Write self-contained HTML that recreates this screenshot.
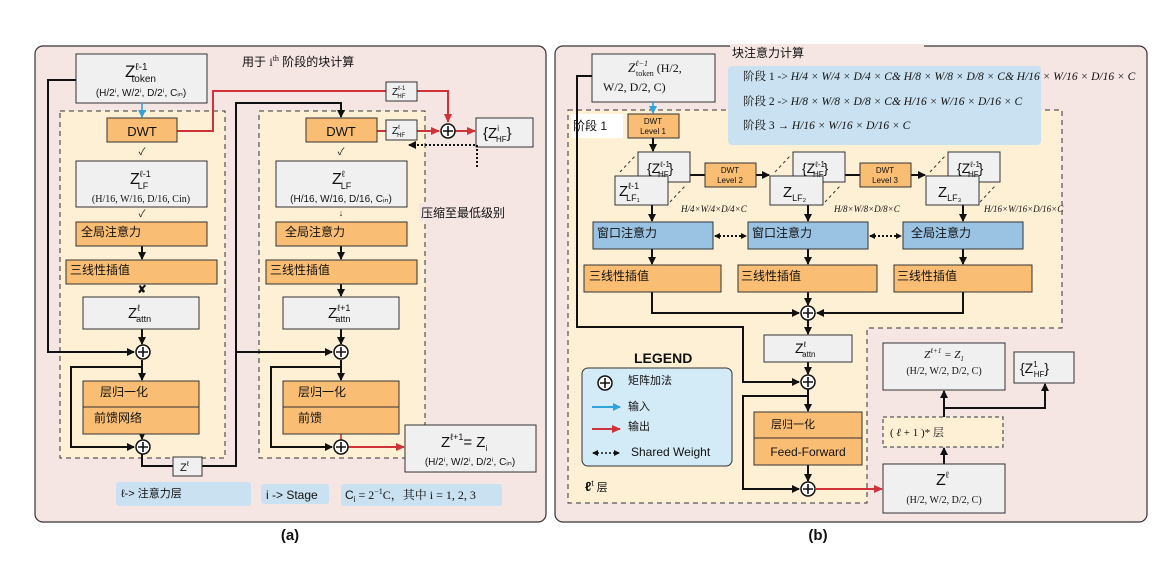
<!DOCTYPE html>
<html><head><meta charset="utf-8"><style>
html,body{margin:0;padding:0;background:#fff;}
svg{display:block;}
text{font-family:"Liberation Sans","Noto Sans CJK SC",sans-serif;fill:#111;}
.s{font-family:"Liberation Serif","Noto Serif CJK SC",serif;}
</style></head><body>
<svg width="1162" height="568" viewBox="0 0 1162 568" xmlns="http://www.w3.org/2000/svg">
<defs>
<marker id="ak" markerWidth="8" markerHeight="8" refX="7" refY="4" orient="auto" markerUnits="userSpaceOnUse"><path d="M0,0 L8,4 L0,8 z" fill="#111"/></marker>
<marker id="ar" markerWidth="9" markerHeight="8" refX="8" refY="4" orient="auto" markerUnits="userSpaceOnUse"><path d="M0,0 L9,4 L0,8 z" fill="#d0323a"/></marker>
<marker id="ab" markerWidth="8" markerHeight="8" refX="7" refY="4" orient="auto" markerUnits="userSpaceOnUse"><path d="M0,0 L8,4 L0,8 z" fill="#2ea3dc"/></marker>
<marker id="as" markerWidth="6" markerHeight="6" refX="5" refY="3" orient="auto-start-reverse" markerUnits="userSpaceOnUse"><path d="M0,0 L6,3 L0,6 z" fill="#111"/></marker>
<g id="plus"><circle r="7" fill="#fff" stroke="#111" stroke-width="1.5"/><path d="M-5,0H5M0,-5V5" stroke="#111" stroke-width="1.6"/></g>
</defs>

<!-- ========== PANEL A ========== -->
<rect x="35" y="46" width="511" height="476" rx="8" fill="#f5e5e3" stroke="#333" stroke-width="1.2"/>
<rect x="60" y="111" width="165" height="347" fill="#fdf0d5" stroke="#333" stroke-dasharray="5,4"/>
<rect x="259" y="111" width="166" height="347" fill="#fdf0d5" stroke="#333" stroke-dasharray="5,4"/>
<text x="242" y="66" font-size="12">用于 <tspan class="s">i</tspan><tspan class="s" font-size="8" dy="-5">th</tspan><tspan dy="5"> 阶段的块计算</tspan></text>

<rect x="76" y="54" width="131" height="49" fill="#f0f0f0" stroke="#333"/>
<text x="125" y="77" font-size="17">Z<tspan font-size="10" dy="-7">ℓ-1</tspan><tspan font-size="10" dx="-16" dy="12">token</tspan></text>
<text x="141" y="96" font-size="10" text-anchor="middle">(H/2ⁱ, W/2ⁱ, D/2ⁱ, Cᵢₙ)</text>
<line x1="142" y1="103" x2="142" y2="117" stroke="#2ea3dc" stroke-width="1.6" marker-end="url(#ab)"/>

<g fill="none" stroke="#111" stroke-width="2">
<polyline points="76,80 48,80 48,352 134,352" marker-end="url(#ak)"/>
<polyline points="142,360 142,380" marker-end="url(#ak)"/>
<polyline points="142,367 71,367 71,447 134,447" marker-end="url(#ak)"/>
<polyline points="142,454 142,466 173,466"/>
<polyline points="202,466 236,466 236,103 341,103 341,117" marker-end="url(#ak)"/>
<polyline points="236,352 332,352" marker-end="url(#ak)"/>
<polyline points="142,246 142,259" marker-end="url(#ak)"/>
<polyline points="142,329 142,344" marker-end="url(#ak)"/>
<polyline points="142,434 142,439" marker-end="url(#ak)"/>
<polyline points="341,246 341,259" marker-end="url(#ak)"/>
<polyline points="341,284 341,296" marker-end="url(#ak)"/>
<polyline points="341,329 341,344" marker-end="url(#ak)"/>
<polyline points="341,360 341,380" marker-end="url(#ak)"/>
<polyline points="341,367 271,367 271,447 332,447" marker-end="url(#ak)"/>
</g>
<line x1="341" y1="434" x2="341" y2="440" stroke="#d0323a" stroke-width="1.6"/>
<g fill="none" stroke="#d0323a" stroke-width="2">
<polyline points="177,131 213,131 213,91 386,91"/>
<polyline points="417,91 448,91 448,122" marker-end="url(#ar)"/>
<line x1="377" y1="131" x2="386" y2="131"/>
<line x1="417" y1="131" x2="439" y2="131" marker-end="url(#ar)"/>
<line x1="455" y1="131" x2="475" y2="131" marker-end="url(#ar)"/>
<line x1="348" y1="447" x2="404" y2="447" marker-end="url(#ar)"/>
</g>

<rect x="107" y="118" width="70" height="24" fill="#f9bd74" stroke="#333"/>
<text x="142" y="136" font-size="13" text-anchor="middle">DWT</text>
<text x="142" y="155" font-size="10" text-anchor="middle">✓</text>
<rect x="76" y="161" width="131" height="46" fill="#f0f0f0" stroke="#333"/>
<text x="130" y="184" font-size="16">Z<tspan font-size="9" dy="-7">ℓ-1</tspan><tspan font-size="9" dx="-13" dy="12">LF</tspan></text>
<text x="141" y="202" font-size="10" class="s" text-anchor="middle">(H/16, W/16, D/16, Cin)</text>
<text x="142" y="217" font-size="10" text-anchor="middle">✓</text>
<rect x="76" y="222" width="131" height="24" fill="#f9bd74" stroke="#333"/>
<text x="81" y="236" font-size="12">全局注意力</text>
<rect x="66" y="260" width="151" height="24" fill="#f9bd74" stroke="#333"/>
<text x="70" y="274" font-size="12">三线性插值</text>
<text x="142" y="293" font-size="11" text-anchor="middle" font-weight="bold">✘</text>
<rect x="83" y="297" width="116" height="32" fill="#f0f0f0" stroke="#333"/>
<text x="128" y="318" font-size="15">Z<tspan font-size="9" dy="-7">ℓ</tspan><tspan font-size="9" dx="-4" dy="11">attn</tspan></text>
<use href="#plus" x="143" y="352"/>
<rect x="83" y="381" width="116" height="53" fill="#f9bd74" stroke="#333"/>
<line x1="83" y1="407" x2="199" y2="407" stroke="#333"/>
<text x="100" y="396" font-size="12">层归一化</text>
<text x="94" y="422" font-size="12">前馈网络</text>
<use href="#plus" x="143" y="447"/>
<rect x="173" y="457" width="29" height="19" fill="#f0f0f0" stroke="#333"/>
<text x="180" y="471" font-size="11">Z<tspan font-size="7" dy="-5">ℓ</tspan></text>

<rect x="306" y="118" width="71" height="24" fill="#f9bd74" stroke="#333"/>
<text x="341" y="136" font-size="13" text-anchor="middle">DWT</text>
<rect x="386" y="120" width="31" height="20" fill="#f0f0f0" stroke="#333"/>
<text x="392" y="134" font-size="10">Z<tspan font-size="6" dy="-5">ℓ</tspan><tspan font-size="6" dx="-3" dy="8">HF</tspan></text>
<rect x="386" y="82" width="31" height="19" fill="#f0f0f0" stroke="#333"/>
<text x="392" y="95" font-size="10">Z<tspan font-size="6" dy="-5">ℓ-1</tspan><tspan font-size="6" dx="-8" dy="8">HF</tspan></text>
<use href="#plus" x="448" y="131"/>
<rect x="476" y="118" width="57" height="29" fill="#f0f0f0" stroke="#333"/>
<text x="483" y="138" font-size="15">{Z<tspan font-size="8" dy="-7">i</tspan><tspan font-size="8" dx="-3" dy="11">HF</tspan><tspan dy="-4">}</tspan></text>
<text x="341" y="155" font-size="10" text-anchor="middle">✓</text>
<rect x="276" y="161" width="131" height="46" fill="#f0f0f0" stroke="#333"/>
<text x="332" y="184" font-size="16">Z<tspan font-size="9" dy="-7">ℓ</tspan><tspan font-size="9" dx="-4" dy="12">LF</tspan></text>
<text x="341" y="202" font-size="10" text-anchor="middle">(H/16, W/16, D/16, Cᵢₙ)</text>
<text x="341" y="216" font-size="9" text-anchor="middle">↓</text>
<rect x="276" y="222" width="131" height="24" fill="#f9bd74" stroke="#333"/>
<text x="285" y="236" font-size="12">全局注意力</text>
<rect x="266" y="260" width="151" height="24" fill="#f9bd74" stroke="#333"/>
<text x="270" y="274" font-size="12">三线性插值</text>
<rect x="283" y="297" width="116" height="32" fill="#f0f0f0" stroke="#333"/>
<text x="328" y="318" font-size="15">Z<tspan font-size="9" dy="-7">ℓ+1</tspan><tspan font-size="9" dx="-15" dy="11">attn</tspan></text>
<use href="#plus" x="341" y="352"/>
<rect x="283" y="381" width="116" height="53" fill="#f9bd74" stroke="#333"/>
<line x1="283" y1="407" x2="399" y2="407" stroke="#333"/>
<text x="298" y="396" font-size="12">层归一化</text>
<text x="298" y="422" font-size="12">前馈</text>
<use href="#plus" x="341" y="447"/>
<rect x="405" y="425" width="131" height="47" fill="#f0f0f0" stroke="#333"/>
<text x="441" y="447" font-size="15">Z<tspan font-size="9" dy="-7">ℓ+1</tspan><tspan dy="7">= Z</tspan><tspan font-size="8" dy="4">i</tspan></text>
<text x="470" y="465" font-size="10" text-anchor="middle">(H/2ⁱ, W/2ⁱ, D/2ⁱ, Cᵢₙ)</text>
<polyline points="477,167 477,145 409,145" fill="none" stroke="#111" stroke-width="2" stroke-dasharray="2,2" marker-end="url(#ak)"/>
<rect x="419" y="203" width="96" height="18" fill="#f5e5e3"/>
<text x="421" y="217" font-size="12">压缩至最低级别</text>

<rect x="116" y="482" width="135" height="24" rx="3" fill="#c9e1f0"/>
<text x="121" y="497" font-size="11">ℓ-> 注意力层</text>
<rect x="261" y="484" width="68" height="20" rx="3" fill="#c9e1f0"/>
<text x="266" y="499" font-size="12">i -> Stage</text>
<rect x="341" y="484" width="161" height="22" rx="3" fill="#c9e1f0"/>
<text x="345" y="499" font-size="12">C<tspan font-size="8" dy="3">i</tspan><tspan class="s" dy="-3"> = 2</tspan><tspan class="s" font-size="8" dy="-5">−1</tspan><tspan class="s" dy="5">C，其中 i = 1, 2, 3</tspan></text>
<text x="290" y="540" font-size="15" font-weight="bold" text-anchor="middle">(a)</text>

<!-- ========== PANEL B ========== -->
<rect x="555" y="46" width="592" height="476" rx="8" fill="#f5e5e3" stroke="#333" stroke-width="1.2"/>
<polygon points="568,110 1062,110 1062,328 867,328 867,503 568,503" fill="#fdf0d5" stroke="#333" stroke-dasharray="5,4"/>
<rect x="730" y="44" width="194" height="16" fill="#f5e5e3"/>
<text x="732" y="57" font-size="12">块注意力计算</text>
<rect x="728" y="66" width="313" height="79" rx="4" fill="#c9e1f0"/>
<text x="743" y="80" font-size="11.5" class="s">阶段 1 -&gt; <tspan font-style="italic">H/4 × W/4 × D/4 × C&amp; H/8 × W/8 × D/8 × C&amp; H/16 × W/16 × D/16 × C</tspan></text>
<text x="743" y="105" font-size="11.5" class="s">阶段 2 -&gt; <tspan font-style="italic">H/8 × W/8 × D/8 × C&amp; H/16 × W/16 × D/16 × C</tspan></text>
<text x="743" y="129" font-size="11.5" class="s">阶段 3 → <tspan font-style="italic">H/16 × W/16 × D/16 × C</tspan></text>

<rect x="592" y="54" width="123" height="48" fill="#f0f0f0" stroke="#333"/>
<text x="628" y="72" font-size="13" class="s" font-style="italic">Z<tspan font-size="8" dy="-6">ℓ−1</tspan><tspan font-size="8" font-style="normal" dx="-12" dy="10">token</tspan><tspan font-size="12" font-style="normal" dy="-4"> (H/2,</tspan></text>
<text x="603" y="91" font-size="12" class="s">W/2, D/2, C)</text>
<line x1="653" y1="102" x2="653" y2="113" stroke="#2ea3dc" stroke-width="1.6" marker-end="url(#ab)"/>

<rect x="571" y="114" width="52" height="24" fill="#fff"/>
<text x="573" y="130" font-size="12">阶段 1</text>
<rect x="628" y="114" width="51" height="24" fill="#f9bd74" stroke="#333"/>
<text x="653" y="124" font-size="8" text-anchor="middle">DWT</text>
<text x="653" y="134" font-size="8" text-anchor="middle">Level 1</text>

<g fill="none" stroke="#111" stroke-width="2">
<line x1="653" y1="138" x2="653" y2="151" marker-end="url(#ak)"/>
<line x1="690" y1="175" x2="705" y2="175"/>
<line x1="756" y1="175" x2="769" y2="175" marker-end="url(#ak)"/>
<line x1="845" y1="175" x2="860" y2="175"/>
<line x1="911" y1="175" x2="925" y2="175" marker-end="url(#ak)"/>
<line x1="652" y1="205" x2="652" y2="221" marker-end="url(#ak)"/>
<line x1="808" y1="205" x2="808" y2="221" marker-end="url(#ak)"/>
<line x1="963" y1="205" x2="963" y2="221" marker-end="url(#ak)"/>
<line x1="652" y1="249" x2="652" y2="264" marker-end="url(#ak)"/>
<line x1="808" y1="249" x2="808" y2="264" marker-end="url(#ak)"/>
<line x1="963" y1="249" x2="963" y2="264" marker-end="url(#ak)"/>
<polyline points="652,292 652,313 799,313" marker-end="url(#ak)"/>
<polyline points="963,292 963,313 817,313" marker-end="url(#ak)"/>
<line x1="808" y1="292" x2="808" y2="305" marker-end="url(#ak)"/>
<line x1="808" y1="320" x2="808" y2="334" marker-end="url(#ak)"/>
<line x1="808" y1="362" x2="808" y2="374" marker-end="url(#ak)"/>
<polyline points="592,76 577,76 577,327 743,327 743,382 799,382" marker-end="url(#ak)"/>
<line x1="808" y1="389" x2="808" y2="411" marker-end="url(#ak)"/>
<polyline points="808,396 743,396 743,489 799,489" marker-end="url(#ak)"/>
<line x1="808" y1="465" x2="808" y2="481" marker-end="url(#ak)"/>
<line x1="944" y1="464" x2="944" y2="448" marker-end="url(#ak)"/>
<line x1="944" y1="417" x2="944" y2="391" marker-end="url(#ak)"/>
<polyline points="944,408 1045,408 1045,384" marker-end="url(#ak)"/>
</g>
<g stroke="#111" stroke-width="2" stroke-dasharray="2,2" fill="none">
<line x1="715" y1="236" x2="746" y2="236" marker-start="url(#as)" marker-end="url(#as)"/>
<line x1="870" y1="236" x2="901" y2="236" marker-start="url(#as)" marker-end="url(#as)"/>
</g>

<g stroke="#333" stroke-width="1">
<rect x="638" y="152" width="52" height="30" fill="#f0f0f0"/>
<rect x="615" y="176" width="53" height="29" fill="#f0f0f0"/>
<rect x="793" y="152" width="52" height="30" fill="#f0f0f0"/>
<rect x="770" y="176" width="53" height="29" fill="#f0f0f0"/>
<rect x="948" y="152" width="52" height="30" fill="#f0f0f0"/>
<rect x="926" y="176" width="53" height="29" fill="#f0f0f0"/>
</g>
<g stroke="#333" stroke-dasharray="3,3">
<line x1="620" y1="172" x2="636" y2="155"/><line x1="670" y1="202" x2="686" y2="185"/>
<line x1="775" y1="172" x2="791" y2="155"/><line x1="825" y1="202" x2="841" y2="185"/>
<line x1="930" y1="172" x2="946" y2="155"/><line x1="980" y1="202" x2="996" y2="185"/>
</g>
<text x="647" y="173" font-size="14">{Z<tspan font-size="8" dy="-6">ℓ-1</tspan><tspan font-size="8" dx="-12" dy="10">HF</tspan><tspan dy="-4">}</tspan></text>
<text x="802" y="173" font-size="14">{Z<tspan font-size="8" dy="-6">ℓ-1</tspan><tspan font-size="8" dx="-12" dy="10">HF</tspan><tspan dy="-4">}</tspan></text>
<text x="957" y="173" font-size="14">{Z<tspan font-size="8" dy="-6">ℓ-1</tspan><tspan font-size="8" dx="-12" dy="10">HF</tspan><tspan dy="-4">}</tspan></text>
<text x="619" y="196" font-size="15">Z<tspan font-size="9" dy="-7">ℓ-1</tspan><tspan font-size="9" dx="-13" dy="12">LF₁</tspan></text>
<text x="783" y="197" font-size="15">Z<tspan font-size="9" dy="4">LF₂</tspan></text>
<text x="938" y="197" font-size="15">Z<tspan font-size="9" dy="4">LF₃</tspan></text>
<rect x="705" y="163" width="51" height="24" fill="#f9bd74" stroke="#333"/>
<text x="730" y="173" font-size="8" text-anchor="middle">DWT</text><text x="730" y="183" font-size="8" text-anchor="middle">Level 2</text>
<rect x="860" y="163" width="51" height="24" fill="#f9bd74" stroke="#333"/>
<text x="885" y="173" font-size="8" text-anchor="middle">DWT</text><text x="885" y="183" font-size="8" text-anchor="middle">Level 3</text>
<text x="681" y="212" font-size="9" class="s" font-style="italic">H/4×W/4×D/4×C</text>
<text x="834" y="212" font-size="9" class="s" font-style="italic">H/8×W/8×D/8×C</text>
<text x="984" y="212" font-size="9" class="s" font-style="italic">H/16×W/16×D/16×C</text>

<rect x="593" y="222" width="120" height="27" fill="#9ac3e3" stroke="#333"/>
<text x="597" y="237" font-size="12">窗口注意力</text>
<rect x="748" y="222" width="120" height="27" fill="#9ac3e3" stroke="#333"/>
<text x="752" y="237" font-size="12">窗口注意力</text>
<rect x="903" y="222" width="120" height="27" fill="#9ac3e3" stroke="#333"/>
<text x="911" y="237" font-size="12">全局注意力</text>
<rect x="584" y="265" width="137" height="27" fill="#f9bd74" stroke="#333"/>
<text x="589" y="280" font-size="12">三线性插值</text>
<rect x="738" y="265" width="139" height="27" fill="#f9bd74" stroke="#333"/>
<text x="741" y="280" font-size="12">三线性插值</text>
<rect x="894" y="265" width="138" height="27" fill="#f9bd74" stroke="#333"/>
<text x="897" y="280" font-size="12">三线性插值</text>
<use href="#plus" x="808" y="313"/>
<rect x="764" y="335" width="88" height="27" fill="#f0f0f0" stroke="#333"/>
<text x="795" y="353" font-size="14">Z<tspan font-size="8" dy="-6">ℓ</tspan><tspan font-size="8" dx="-4" dy="10">attn</tspan></text>
<use href="#plus" x="808" y="382"/>
<rect x="754" y="412" width="108" height="53" fill="#f9bd74" stroke="#333"/>
<line x1="754" y1="438" x2="862" y2="438" stroke="#333"/>
<text x="771" y="428" font-size="11">层归一化</text>
<text x="808" y="456" font-size="12" text-anchor="middle">Feed-Forward</text>
<use href="#plus" x="808" y="489"/>
<line x1="815" y1="489" x2="882" y2="489" stroke="#d0323a" stroke-width="2" marker-end="url(#ar)"/>

<rect x="883" y="464" width="122" height="49" fill="#f0f0f0" stroke="#333"/>
<text x="936" y="485" font-size="16">Z<tspan font-size="9" dy="-7">ℓ</tspan></text>
<text x="944" y="503" font-size="10" class="s" text-anchor="middle">(H/2, W/2, D/2, C)</text>
<rect x="883" y="417" width="120" height="30" fill="#fdf0d5" stroke="#333" stroke-dasharray="4,3"/>
<text x="890" y="436" font-size="11" class="s">( <tspan font-style="italic">ℓ</tspan> + 1 )* 层</text>
<rect x="883" y="343" width="122" height="47" fill="#f0f0f0" stroke="#333"/>
<text x="944" y="358" font-size="11" class="s" text-anchor="middle" font-style="italic">Z<tspan font-size="7" dy="-5">ℓ+1</tspan><tspan dy="5"> = Z</tspan><tspan font-size="7" dy="3">1</tspan></text>
<text x="944" y="374" font-size="10" class="s" text-anchor="middle">(H/2, W/2, D/2, C)</text>
<rect x="1014" y="352" width="60" height="31" fill="#f0f0f0" stroke="#333"/>
<text x="1020" y="373" font-size="14">{Z<tspan font-size="8" dy="-6">1</tspan><tspan font-size="8" dx="-4" dy="10">HF</tspan><tspan dy="-4">}</tspan></text>

<text x="634" y="363" font-size="14" font-weight="bold">LEGEND</text>
<rect x="582" y="368" width="150" height="98" rx="6" fill="#d3eaf7" stroke="#333"/>
<use href="#plus" x="605" y="383"/>
<text x="628" y="384" font-size="11">矩阵加法</text>
<line x1="592" y1="407" x2="620" y2="407" stroke="#2ea3dc" stroke-width="2" marker-end="url(#ab)"/>
<text x="628" y="410" font-size="11">输入</text>
<line x1="592" y1="429" x2="620" y2="429" stroke="#d0323a" stroke-width="2" marker-end="url(#ar)"/>
<text x="628" y="430" font-size="11">输出</text>
<line x1="593" y1="453" x2="619" y2="453" stroke="#111" stroke-width="1.5" stroke-dasharray="2,2" marker-start="url(#as)" marker-end="url(#as)"/>
<text x="631" y="456" font-size="12">Shared Weight</text>
<text x="585" y="491" font-size="13" font-weight="bold">ℓ<tspan font-size="8" font-weight="normal" dy="-5">t</tspan><tspan font-size="11" font-weight="normal" dy="5"> 层</tspan></text>
<text x="818" y="540" font-size="15" font-weight="bold" text-anchor="middle">(b)</text>
</svg>
</body></html>
